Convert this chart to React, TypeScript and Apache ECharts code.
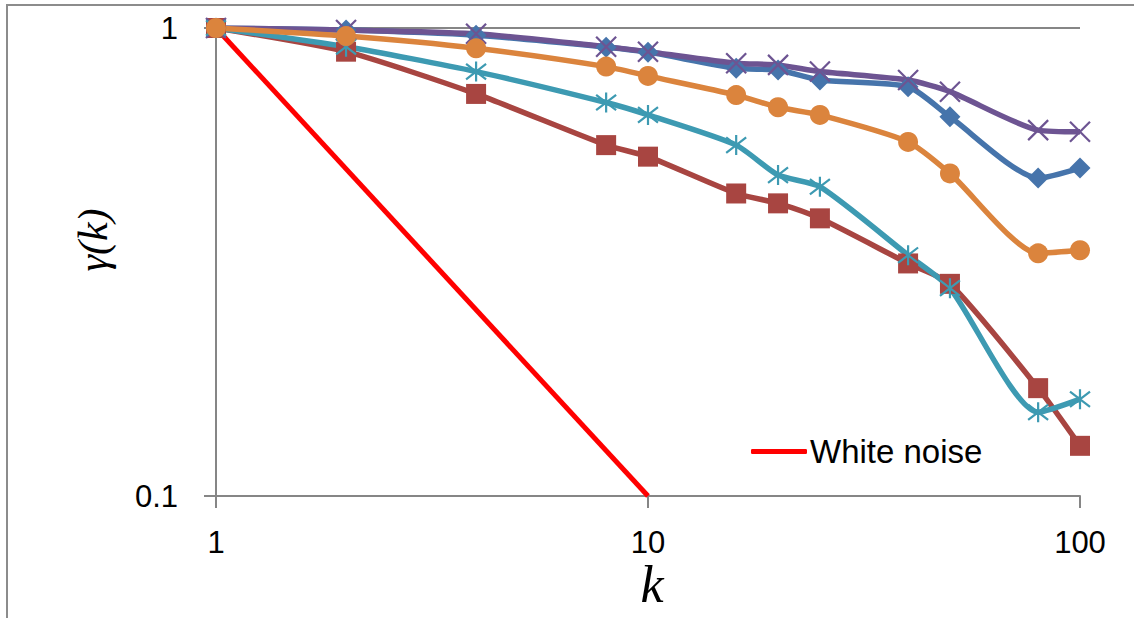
import React, { useEffect, useRef } from "react";
import * as echarts from "echarts";

const kValues = [1, 2, 4, 8, 10, 16, 20, 25, 40, 50, 80, 100];
const blueDiamond = [1, 0.99, 0.965, 0.91, 0.888, 0.82, 0.813, 0.774, 0.749, 0.646, 0.478, 0.502];
const purpleCross = [1, 0.99, 0.972, 0.912, 0.89, 0.841, 0.834, 0.807, 0.774, 0.731, 0.605, 0.6];
const orangeCircle = [1, 0.961, 0.905, 0.827, 0.79, 0.719, 0.677, 0.652, 0.571, 0.489, 0.33, 0.335];
const aquaStar = [1, 0.912, 0.807, 0.693, 0.652, 0.562, 0.485, 0.458, 0.327, 0.278, 0.151, 0.161];
const redSquare = [1, 0.89, 0.723, 0.562, 0.531, 0.443, 0.422, 0.392, 0.314, 0.284, 0.17, 0.128];
const whiteNoiseK = [1, 10];
const whiteNoise = [1, 0.1];
const xTicks = [1, 10, 100];
const yTicks = [0.1, 1];

const pair = (xs: number[], ys: number[]) => xs.map((x, i) => [x, ys[i]]);

const X_PATH = "path://M0,0 L10,10 M10,0 L0,10";
const STAR_PATH = "path://M0,0 L10,10 M10,0 L0,10 M5,-1.5 L5,11.5";

export default function App() {
  const ref = useRef<HTMLDivElement>(null);
  useEffect(() => {
    if (!ref.current) return;
    const chart = echarts.init(ref.current, null, { renderer: "svg" });
    const axisGrey = "#868686";
    const mkLine = (name: string, ys: number[], color: string, symbol: string, size: number, open = false) => ({
      type: "line",
      name,
      data: pair(kValues, ys),
      smooth: 0.22,
      symbol,
      symbolSize: size,
      lineStyle: { color, width: 5.5 },
      itemStyle: open
        ? { color: "rgba(0,0,0,0)", borderColor: color, borderWidth: 2.2 }
        : { color },
    });
    chart.setOption({
      animation: false,
      backgroundColor: "#fff",
      textStyle: { fontFamily: "Liberation Sans" },
      grid: { left: 216, right: 54, top: 28, bottom: 122 },
      xAxis: {
        type: "log",
        logBase: 10,
        min: xTicks[0],
        max: xTicks[xTicks.length - 1],
        axisLine: { show: true, onZero: false, lineStyle: { color: axisGrey, width: 2 } },
        axisTick: { show: true, length: 12, lineStyle: { color: axisGrey, width: 2 } },
        axisLabel: { fontSize: 31, color: "#000", margin: 31, fontFamily: "Liberation Sans" },
        splitLine: { show: false },
        minorTick: { show: false },
      },
      yAxis: {
        type: "log",
        logBase: 10,
        min: yTicks[0],
        max: yTicks[yTicks.length - 1],
        axisLine: { show: true, onZero: false, lineStyle: { color: axisGrey, width: 2 } },
        axisTick: { show: true, length: 12, lineStyle: { color: axisGrey, width: 2 } },
        axisLabel: { fontSize: 31, color: "#000", margin: 38, fontFamily: "Liberation Sans" },
        splitLine: { show: true, lineStyle: { color: axisGrey, width: 2 } },
      },
      legend: {
        data: [{ name: "White noise", icon: "roundRect" }],
        left: 746,
        top: 430,
        itemWidth: 56,
        itemHeight: 5,
        itemGap: 6,
        textStyle: { fontSize: 33, color: "#000", fontFamily: "Liberation Sans", padding: [0, 0, 0, -2] },
      },
      graphic: [
        {
          type: "rect",
          shape: { x: 7, y: 5, width: 1140, height: 640 },
          style: { fill: "none", stroke: "#8c8c8c", lineWidth: 2 },
          silent: true,
        },
        {
          type: "text",
          x: 652,
          y: 584,
          style: {
            text: "k",
            font: "italic 52px 'Liberation Serif'",
            fill: "#000",
            align: "center",
            verticalAlign: "middle",
          },
        },
        {
          type: "text",
          x: 93,
          y: 240,
          rotation: Math.PI / 2,
          style: {
            text: "γ(k)",
            font: "italic 42px 'Liberation Serif'",
            fill: "#000",
            align: "center",
            verticalAlign: "middle",
          },
        },
      ],
      series: [
        {
          type: "line",
          name: "White noise",
          data: pair(whiteNoiseK, whiteNoise),
          symbol: "none",
          lineStyle: { color: "#ff0000", width: 5 },
          itemStyle: { color: "#ff0000" },
        },
        mkLine("blue", blueDiamond, "#4674ab", "diamond", 21),
        mkLine("red", redSquare, "#a84541", "rect", 20),
        mkLine("purple", purpleCross, "#6d5492", X_PATH, 20, true),
        mkLine("aqua", aquaStar, "#3d9ab2", STAR_PATH, 20, true),
        mkLine("orange", orangeCircle, "#db843d", "circle", 20),
      ],
    });
    return () => chart.dispose();
  }, []);
  return (
    <div
      ref={ref}
      style={{ position: "fixed", left: 0, top: 0, width: 1134, height: 618 }}
    />
  );
}
